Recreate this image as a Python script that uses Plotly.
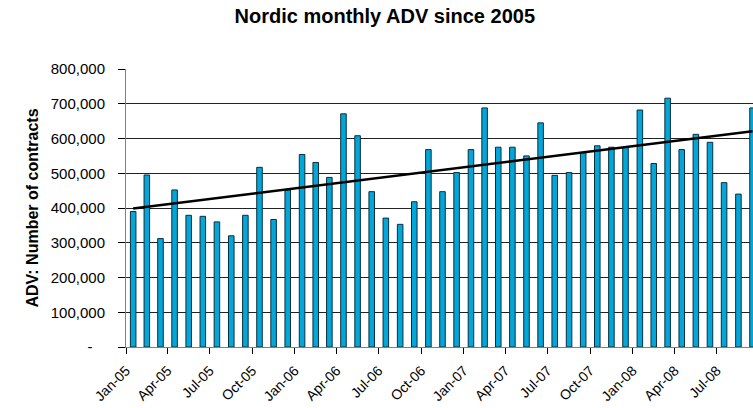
import numpy as np
import pandas as pd
import plotly.graph_objects as go

# monthly average daily volume, Jan-05 .. Sep-08
adv = [
    390000, 495000, 312000, 452000, 379000, 376000, 360000, 320000, 379000, 517000,
    367000, 452000, 554000, 531000, 488000, 671000, 608000, 447000, 371000, 353000,
    418000, 568000, 447000, 502000, 568000, 688000, 575000, 575000, 550000, 645000,
    494000, 502000, 559000, 579000, 575000, 575000, 682000, 528000, 716000, 568000,
    612000, 589000, 473000, 440000, 688000,
]
months = pd.date_range("2005-01-01", periods=len(adv), freq="MS")

y_ticks = [0, 100000, 200000, 300000, 400000, 500000, 600000, 700000, 800000]
y_labels = ["-\u00a0\u00a0\u00a0"] + [f"{v:,}" for v in y_ticks[1:]]

# linear trendline, as Excel would fit it
idx = np.arange(len(adv))
slope, intercept = np.polyfit(idx, adv, 1)
trend = slope * idx + intercept

fig = go.Figure()
fig.add_trace(go.Bar(
    x=months, y=adv,
    xperiod="M1", xperiodalignment="middle",
    width=12 * 86400000,
    marker=dict(color="#03A6D8", line=dict(color="#0B2F3C", width=1)),
    showlegend=False,
))
fig.add_trace(go.Scatter(
    x=[months[0], months[-1]], y=[trend[0], trend[-1]],
    xperiod="M1", xperiodalignment="middle",
    mode="lines", line=dict(color="#000000", width=2.5),
    showlegend=False,
))

fig.update_layout(
    width=753, height=408,
    paper_bgcolor="white", plot_bgcolor="white",
    font=dict(family="Liberation Sans, Arial, sans-serif", size=15, color="#000000"),
    title=dict(text="<b>Nordic monthly ADV since 2005</b>", x=0.511, xanchor="center",
               y=0.962, yanchor="middle", font=dict(size=20)),
    margin=dict(l=126, r=0, t=69, b=61),
)
fig.update_xaxes(
    type="date",
    range=["2005-01-01", "2008-09-17"],
    tick0="2005-01-01", dtick="M3", tickformat="%b-%y",
    tickangle=-45, ticks="outside", ticklen=6, tickcolor="#000000",
    ticklabelstandoff=3, automargin=False,
    showline=True, linecolor="#808080", linewidth=1,
    showgrid=False, tickfont=dict(size=14),
)
fig.update_yaxes(
    range=[0, 800000],
    tickvals=y_ticks, ticktext=y_labels,
    ticks="outside", ticklen=7, tickcolor="#000000",
    ticklabelstandoff=10, automargin=False,
    showline=True, linecolor="#808080", linewidth=1,
    showgrid=True, gridcolor="#222222", gridwidth=1,
    zeroline=False,
    title=dict(text="<b>ADV: Number of contracts</b>", standoff=8, font=dict(size=16)),
    tickfont=dict(size=15),
)

# drop the default body margin so the figure sits at the page's top-left corner
fig.write_html(
    "out.html",
    config={"displayModeBar": False},
    post_script="document.body.style.margin = '0';",
)
